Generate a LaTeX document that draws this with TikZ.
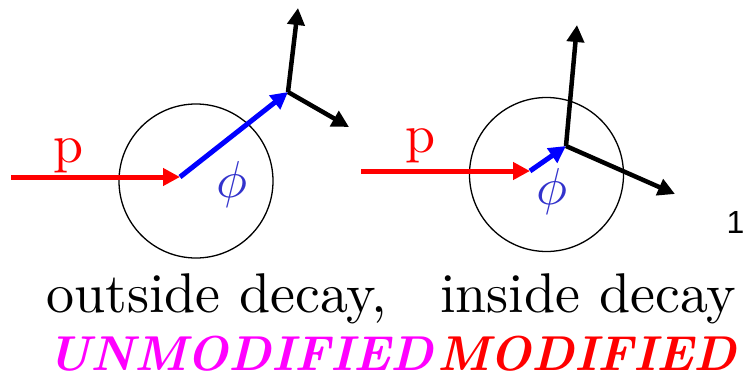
\documentclass[tikz,border=0pt]{standalone}
\DeclareFontShape{OML}{cmm}{m}{it}{<->cmmi10}{}
\usepackage{fontspec}
\setmainfont{lmroman10-regular.otf}[BoldFont=lmroman10-bold.otf,ItalicFont=lmroman10-italic.otf,BoldItalicFont=lmroman10-bolditalic.otf]
\newfontfamily\sansone{Liberation Sans}
\usetikzlibrary{arrows.meta}
\definecolor{phiblue}{RGB}{51,51,204}
\definecolor{pred}{RGB}{255,0,0}
\definecolor{pblue}{RGB}{0,0,255}
\definecolor{pmag}{RGB}{255,0,255}
\tikzset{
  ring/.style={circle,draw,line width=1.3pt,minimum size=154pt,inner sep=0pt},
  vec/.style={line width=5pt,-{Triangle[length=17pt,width=17pt]}},
  invec/.style={vec,draw=pred},
  phivec/.style={vec,draw=pblue},
  outvec/.style={line width=4.5pt,-{Triangle[length=17pt,width=17pt]}},
  plabel/.style={inner sep=0pt,text=pred,font=\fontsize{54}{58}\selectfont},
  philabel/.style={inner sep=0pt,text=phiblue,font=\fontsize{52}{56}\selectfont},
  caption/.style={inner sep=0pt,anchor=base west,font=\fontsize{56}{60}\selectfont},
  verdict/.style={inner sep=0pt,anchor=base west,font=\fontsize{49}{53}\selectfont\bfseries\itshape},
}
\begin{document}
\begin{tikzpicture}[x=1pt,y=-1pt]
\useasboundingbox (0,0) rectangle (745,381);
% left panel
\node[ring] (cL) at (196,181) {};
\coordinate (pinL) at (11,177);
\coordinate (decL) at (180,177);
\coordinate (vL) at (288,92);
\coordinate (uL) at (298,8);
\coordinate (rL) at (349,127);
\draw[invec] (pinL) -- (decL);
\draw[phivec] (decL) -- (vL);
\draw[outvec] (vL) -- (uL);
\draw[outvec] (vL) -- (rL);
\node[plabel] (pL) at (69,156) {p};
\node[philabel] (phiL) at (232,184) {$\phi$};
% right panel
\node[ring] (cR) at (546.5,174.5) {};
\coordinate (pinR) at (361,171);
\coordinate (decR) at (530,171);
\coordinate (vR) at (566,146);
\coordinate (uR) at (577,25);
\coordinate (rR) at (675,194);
\draw[invec] (pinR) -- (decR);
\draw[phivec] (decR) -- (vR);
\draw[outvec] (vR) -- (uR);
\draw[outvec] (vR) -- (rR);
\node[plabel] (pR) at (421,146) {p};
\node[philabel] (phiR) at (552,191) {$\phi$};
% page number
\node[inner sep=0pt,font=\sansone\fontsize{32}{34}\selectfont] (num) at (735.5,222) {1};
% captions
\node[caption] (outT) at (46,312) {outside decay,};
\node[caption] (inT) at (440,312) {inside decay};
\node[verdict,text=pmag] (unmod) at (47,370) {UNMODIFIED};
\node[verdict,text=pred] (mod) at (437,370) {MODIFIED};
\end{tikzpicture}
\end{document}
